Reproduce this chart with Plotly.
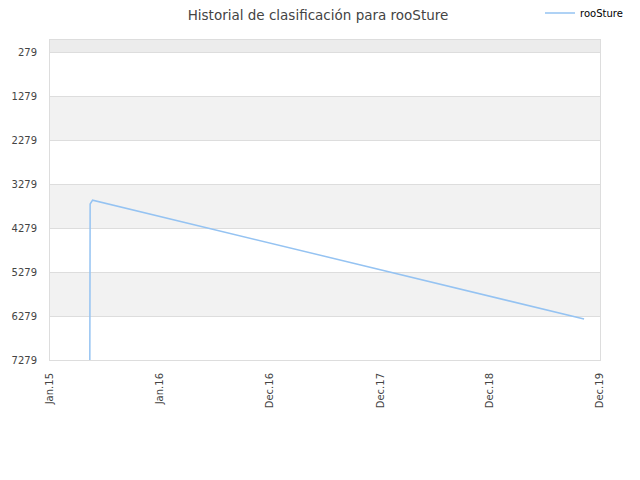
import plotly.graph_objects as go

# ranking history (lower number = better position)
fechas = ["2015-05-11", "2015-05-12", "2015-05-20", "2019-10-10"]
posiciones = [7279, 3730, 3643, 6347]

tick_fechas = ["2015-01-01", "2015-12-26", "2016-12-19", "2017-12-14", "2018-12-07", "2019-12-01"]
tick_textos = ["Jan.15", "Jan.16", "Dec.16", "Dec.17", "Dec.18", "Dec.19"]
y_ticks = [279, 1279, 2279, 3279, 4279, 5279, 6279, 7279]

# page body has an 8px margin, so the figure is a bit smaller than the window
W, H = 632, 472

fig = go.Figure()

fig.add_trace(go.Scatter(x=fechas, y=posiciones, mode='lines', name='rooSture',
                         line=dict(color='#95c3f2', width=1.5)))

# alternating background bands
fig.add_shape(type='rect', xref='paper', yref='y', x0=0, x1=1, y0=0, y1=y_ticks[0],
              fillcolor='#ececec', line_width=0, layer='below')
for i in range(1, len(y_ticks) - 1, 2):
    fig.add_shape(type='rect', xref='paper', yref='y', x0=0, x1=1,
                  y0=y_ticks[i], y1=y_ticks[i + 1],
                  fillcolor='#f2f2f2', line_width=0, layer='below')

fig.update_layout(
    width=W, height=H,
    title=dict(text='Historial de clasificación para rooSture', x=310 / W, y=1 - 7.5 / H,
               xref='container', yref='container', xanchor='center', yanchor='middle',
               font=dict(family='DejaVu Sans', size=13.5, color='#444')),
    font=dict(family='DejaVu Sans', size=10, color='#444'),
    margin=dict(l=42, r=40, t=32, b=120, autoexpand=False),
    plot_bgcolor='white', paper_bgcolor='white',
    showlegend=True,
    legend=dict(xref='container', yref='container', x=532 / W, y=1 - 5 / H,
                xanchor='left', yanchor='middle',
                font=dict(size=10, color='black'), bgcolor='rgba(0,0,0,0)'),
    xaxis=dict(type='date', range=['2015-01-01', '2019-12-01'], automargin=False,
               tickvals=tick_fechas, ticktext=tick_textos, tickangle=-90,
               showgrid=False, showline=True, linecolor='#ddd', mirror=True,
               ticks='outside', ticklen=8, tickcolor='rgba(0,0,0,0)', zeroline=False),
    yaxis=dict(range=[7279, 0], tickvals=y_ticks, ticktext=[str(v) for v in y_ticks],
               automargin=False,
               showgrid=True, gridcolor='#ddd', showline=True, linecolor='#ddd', mirror=True,
               ticks='outside', ticklen=10, tickcolor='rgba(0,0,0,0)', zeroline=False)
)

fig.write_html("out.html")
